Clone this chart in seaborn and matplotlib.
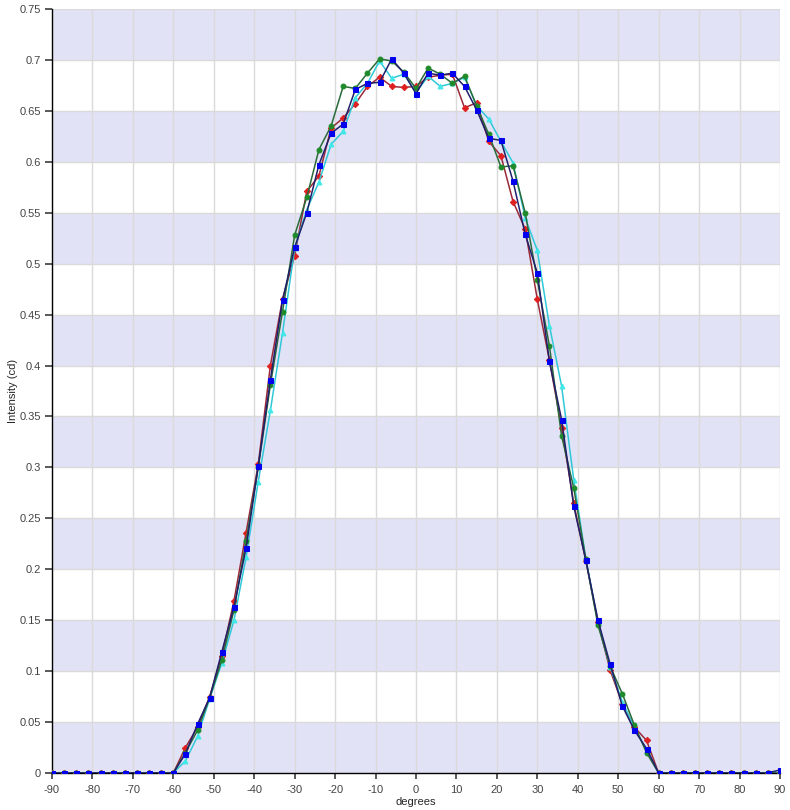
import numpy as np
import pandas as pd
import matplotlib
matplotlib.use("Agg")
import matplotlib.pyplot as plt
import seaborn as sns

# angles every 3 degrees, -90 .. 90
degrees = list(range(-90, 91, 3))

# values for -57 .. 57 (outside that range they are zero)
red = [0.025, 0.045, 0.075, 0.115, 0.169, 0.236, 0.303, 0.400, 0.465, 0.508,
       0.571, 0.586, 0.633, 0.643, 0.657, 0.674, 0.683, 0.674, 0.673, 0.674,
       0.683, 0.685, 0.686, 0.653, 0.658, 0.620, 0.606, 0.561, 0.534, 0.465,
       0.405, 0.339, 0.265, 0.208, 0.148, 0.101, 0.068, 0.045, 0.032]
green = [0.020, 0.042, 0.074, 0.111, 0.160, 0.228, 0.300, 0.381, 0.453, 0.528,
         0.565, 0.612, 0.635, 0.674, 0.672, 0.687, 0.701, 0.699, 0.688, 0.672,
         0.692, 0.686, 0.677, 0.684, 0.655, 0.627, 0.595, 0.596, 0.550, 0.484,
         0.419, 0.331, 0.280, 0.210, 0.145, 0.105, 0.078, 0.047, 0.020]
cyan = [0.012, 0.036, 0.073, 0.108, 0.150, 0.212, 0.286, 0.356, 0.432, 0.515,
        0.553, 0.580, 0.617, 0.630, 0.663, 0.677, 0.699, 0.682, 0.686, 0.668,
        0.684, 0.674, 0.677, 0.683, 0.655, 0.642, 0.620, 0.599, 0.545, 0.513,
        0.439, 0.380, 0.288, 0.210, 0.148, 0.104, 0.070, 0.045, 0.022]
blue = [0.019, 0.048, 0.074, 0.119, 0.163, 0.221, 0.301, 0.386, 0.464, 0.516,
        0.550, 0.597, 0.628, 0.637, 0.671, 0.677, 0.678, 0.701, 0.687, 0.667,
        0.687, 0.685, 0.687, 0.674, 0.651, 0.623, 0.621, 0.581, 0.529, 0.491,
        0.404, 0.347, 0.262, 0.209, 0.150, 0.107, 0.066, 0.042, 0.024]


def pad(vals, last=0.0):
    # 11 zero points on each side (-90..-60 and 60..90)
    return [0.0] * 11 + vals + [0.0] * 10 + [last]


series = {
    "red": pad(red),
    "cyan": pad(cyan),
    "green": pad(green),
    "blue": pad(blue, 0.003),
}

styles = {
    "red": dict(color="#9a2a3a", marker="D", mfc="#e02020", mec="#e02020", ms=3.2),
    "cyan": dict(color="#30c8d8", marker="^", mfc="#40e8e8", mec="#40e8e8", ms=3.5),
    "green": dict(color="#2a6a3a", marker="o", mfc="#1e8a2a", mec="#1e8a2a", ms=3.5),
    "blue": dict(color="#20206a", marker="s", mfc="#0000ee", mec="#0000ee", ms=3.6),
}

sns.set_theme(style="white")
plt.rcParams["font.family"] = ["Liberation Sans", "DejaVu Sans"]
plt.rcParams["axes.unicode_minus"] = False

fig = plt.figure(figsize=(7.9, 8.1), dpi=100)
ax = fig.add_axes([0.0658, 0.0457, 0.9215, 0.9432])

# alternating lavender bands
for lo in np.arange(0, 0.75, 0.1):
    ax.axhspan(lo, lo + 0.05, color="#e2e2f6", lw=0, zorder=0)

for name, vals in series.items():
    df = pd.DataFrame({"degrees": degrees, "intensity": vals})
    st = styles[name]
    sns.lineplot(data=df, x="degrees", y="intensity", ax=ax, color=st["color"],
                 lw=1.1, marker=st["marker"], markerfacecolor=st["mfc"],
                 markeredgecolor=st["mec"], markersize=st["ms"], zorder=3)

ax.set_xlim(-90, 90)
ax.set_ylim(0, 0.75)
ax.set_xticks(range(-90, 91, 10))
ax.set_yticks(np.round(np.arange(0, 0.76, 0.05), 2))
ax.set_yticklabels(["0"] + [f"{v:g}" for v in np.round(np.arange(0.05, 0.76, 0.05), 2)])
ax.grid(True, color="#dadada", lw=1, zorder=1)
ax.set_axisbelow(True)

for s in ["top", "right"]:
    ax.spines[s].set_visible(False)
for s in ["left", "bottom"]:
    ax.spines[s].set_color("black")
    ax.spines[s].set_linewidth(1)

ax.tick_params(axis="both", labelsize=8, colors="#444444", length=4,
               direction="out", left=True, bottom=True, pad=3)
ax.tick_params(axis="x", pad=5)
ax.tick_params(axis="y", length=5)
ax.set_xlabel("degrees", fontsize=8, labelpad=1)
ax.set_ylabel("Intensity (cd)", fontsize=8, labelpad=1)

fig.savefig("out.png", dpi=100)
